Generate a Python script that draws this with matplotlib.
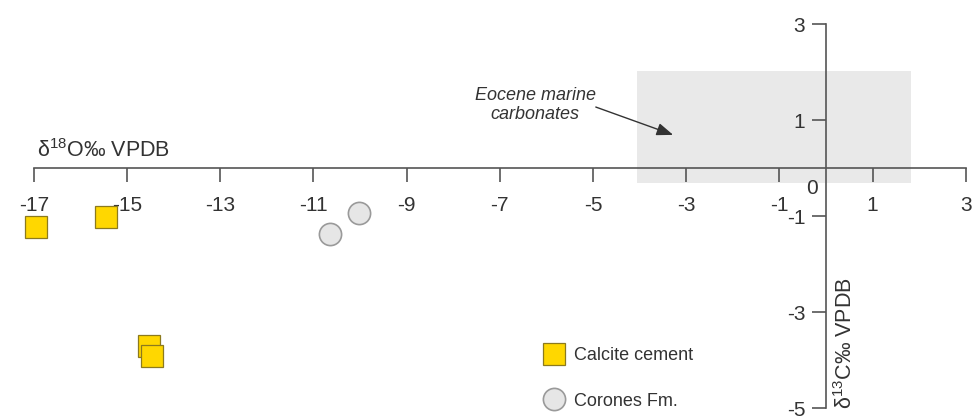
import matplotlib
matplotlib.use("Agg")
import matplotlib.pyplot as plt
from matplotlib.patches import Rectangle

# ---- data ----
calcite_d18O = [-16.95, -15.45, -14.53, -14.46]
calcite_d13C = [-1.23, -1.02, -3.71, -3.92]
corones_d18O = [-10.02, -10.64]
corones_d13C = [-0.94, -1.375]
x_ticks = [-17, -15, -13, -11, -9, -7, -5, -3, -1, 1, 3]
y_ticks = [-5, -3, -1, 1, 3]
eocene_d18O = [-4.05, 1.82]
eocene_d13C = [-0.31, 2.02]
series_labels = ["Calcite cement", "Corones Fm."]
box_label = "Eocene marine\ncarbonates"

plt.rcParams['font.family'] = ['Liberation Sans', 'DejaVu Sans']
plt.rcParams['mathtext.fontset'] = 'custom'
plt.rcParams['mathtext.rm'] = 'Liberation Sans'
plt.rcParams['mathtext.it'] = 'Liberation Sans:italic'
plt.rcParams['axes.unicode_minus'] = False

W, H = 972, 418
fig = plt.figure(figsize=(W / 100, H / 100), dpi=100)
ax = fig.add_axes([0, 0, 1, 1])
ax.patch.set_alpha(0)

x0px, y0px = 826, 168
sx, sy = 46.6, 48.0
ax.set_xlim(-x0px / sx, (W - x0px) / sx)
ax.set_ylim(-(H - y0px) / sy, y0px / sy)

line_col = '#555555'
text_col = '#333333'

for s in ['top', 'right']:
    ax.spines[s].set_visible(False)
ax.spines['bottom'].set_position(('data', 0))
ax.spines['left'].set_position(('data', 0))
ax.spines['bottom'].set_bounds(x_ticks[0], x_ticks[-1])
ax.spines['left'].set_bounds(y_ticks[0], y_ticks[-1])
for s in ['bottom', 'left']:
    ax.spines[s].set_color(line_col)
    ax.spines[s].set_linewidth(1.2)

ax.set_xticks(x_ticks)
ax.set_xticklabels([str(v) for v in x_ticks])
ax.set_yticks(y_ticks)
ax.set_yticklabels([str(v) for v in y_ticks])
ax.tick_params(axis='x', direction='out', length=10, width=1.2, color=line_col,
               labelsize=15, labelcolor=text_col, pad=10)
ax.tick_params(axis='y', direction='out', length=10, width=1.2, color=line_col,
               labelsize=15, labelcolor=text_col, pad=5)

# Eocene marine carbonates field
ax.add_patch(Rectangle((eocene_d18O[0], eocene_d13C[0]),
                       eocene_d18O[1] - eocene_d18O[0],
                       eocene_d13C[1] - eocene_d13C[0],
                       facecolor='#e9e9e9', edgecolor='none', zorder=0.5))

ax.plot(calcite_d18O, calcite_d13C, linestyle='none', marker='s', markersize=16.5,
        markerfacecolor='#ffd700', markeredgecolor='#8c7a1e', markeredgewidth=0.9,
        label=series_labels[0], zorder=3)
ax.plot(corones_d18O, corones_d13C, linestyle='none', marker='o', markersize=16,
        markerfacecolor='#e6e6e6', markeredgecolor='#9a9a9a', markeredgewidth=1.2,
        label=series_labels[1], zorder=3)

ax.text(-0.30, -0.42, '0', fontsize=15, color=text_col, ha='center', va='center')

ax.text((37 - x0px) / sx, (y0px - 151) / sy, 'δ$^{18}$O‰ VPDB', fontsize=15.5,
        color=text_col, ha='left', va='center')
ax.text((846 - x0px) / sx, (y0px - 343) / sy, 'δ$^{13}$C‰ VPDB', fontsize=15.5,
        color=text_col, ha='center', va='center', rotation=90)

ax.text(-6.24, 1.31, box_label, fontsize=13, style='italic', color=text_col,
        ha='center', va='center', linespacing=1.1)
ax.annotate('', xy=(-3.28, 0.69), xytext=(-4.94, 1.27),
            arrowprops=dict(arrowstyle='-|>,head_length=1.0,head_width=0.38',
                            color='#333333', lw=1.0, shrinkA=0, shrinkB=0))

leg = ax.legend(loc='upper left', bbox_to_anchor=(541 / W, 1 - 347 / H),
                bbox_transform=fig.transFigure, frameon=False, fontsize=13,
                borderpad=0, borderaxespad=0, handlelength=1.4, handletextpad=0.45,
                labelspacing=1.58, labelcolor=text_col)

fig.savefig('out.png', dpi=100)
